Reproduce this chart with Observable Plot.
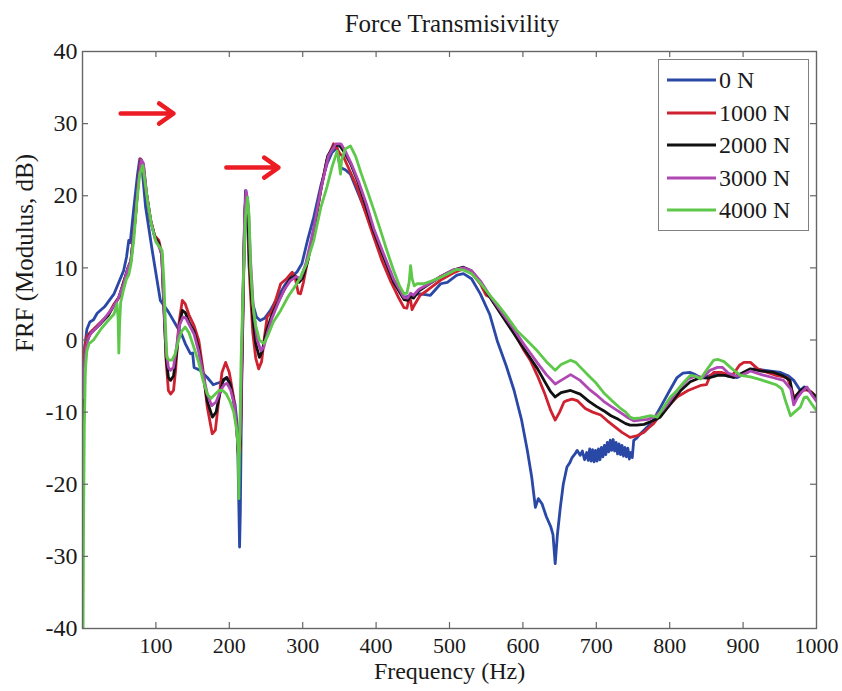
<!DOCTYPE html>
<html>
<head>
<meta charset="utf-8">
<script src="https://cdn.jsdelivr.net/npm/d3@7"></script>
<script src="https://cdn.jsdelivr.net/npm/@observablehq/plot@0.6"></script>
<style>
  html, body { margin: 0; padding: 0; background: #fff; }
  #wrap { position: relative; width: 842px; height: 691px; font-family: "Liberation Serif", "Times New Roman", serif; color: #1a1a1a; overflow: hidden; }
  #titlebar { position: relative; height: 36px; }
  #title { position: absolute; top: 11px; left: 62px; width: 780px; text-align: center; font-size: 25px; line-height: 1; }
  #legend { position: absolute; left: 658px; top: 59px; width: 151px; height: 172px; box-sizing: border-box; border: 1px solid #808080; background: #fff; padding-top: 4px; }
  .row { display: flex; align-items: center; height: 32.5px; }
  .row svg { margin-left: 8px; }
  .row span { margin-left: 3px; font-size: 24px; line-height: 1; }
  svg.plot { display: block; }
</style>
</head>
<body>
<div id="wrap">
  <div id="titlebar"><div id="title"></div></div>
  <div id="chart"></div>
  <div id="legend"></div>
</div>
<script>
const titleText = "Force Transmisivility";
const xLabel = "Frequency (Hz)";
const yLabel = "FRF (Modulus, dB)";
const seriesNames = ["0 N", "1000 N", "2000 N", "3000 N", "4000 N"];
const seriesColors = ["#2a48a6", "#cf2231", "#111111", "#b048b4", "#5ec84a"];
const xTicks = [100, 200, 300, 400, 500, 600, 700, 800, 900, 1000];
const yTicks = [-40, -30, -20, -10, 0, 10, 20, 30, 40];
const xTickMarks = [100, 200, 300, 400, 500, 600, 700, 800, 900];
const yTickMarks = [-30, -20, -10, 0, 10, 20, 30];

// [frequency Hz, FRF dB]
const s0N = [[1,-8],[3,-1],[6,1.5],[10,2.5],[15,2.8],[20,3.7],[30,4.6],[43,6.4],[56,9.6],[60,11.5],[63,13.8],[65,13.5],[70,18.4],[75,23],[78,25.1],[81,24],[86,18.4],[95,12.4],[106,5.5],[117,3.9],[129,1.8],[135,0.8],[140,-0.5],[147,-1.9],[150,-1.8],[152,-3.8],[160,-4.2],[170,-5.2],[178,-6.2],[183.5,-6],[190,-5.8],[197,-5.2],[203,-7],[208,-9],[211,-12],[213,-23],[214,-28.7],[215,-24],[217,-5],[220,12],[222,20.7],[224,19],[227,10],[232,5],[237,3.2],[242,2.7],[248,3],[256,4.1],[265,5.8],[275,7.5],[283,8.7],[292,9.4],[299,10.6],[307,14],[315,17],[325,21.5],[333,24.4],[340,26],[347,26.7],[349,25],[351.5,23.9],[358,23.6],[365,23],[375,20.5],[385,18],[397,15.2],[410,11.5],[424,8.2],[438,5.9],[445,6.1],[452,6.3],[460,6.4],[474,6.2],[488,7.8],[497,8],[510,9],[519,9.2],[530,8.5],[542,6.4],[555,3.5],[565,-0.1],[577,-3.5],[588,-7],[598,-11],[606,-15.3],[612,-19],[617,-23.2],[621,-22],[626,-22.7],[632,-24.5],[638,-25.9],[641,-27],[644,-31],[647,-27],[651,-23.2],[655,-20],[660,-17.6],[664,-17],[667,-16.3],[671,-15.8],[674,-15.3],[678,-16],[681,-15.4],[684,-16.6],[687,-15.6],[689,-16.7],[691,-15.1],[693,-16.8],[695,-15.2],[697,-16.9],[699,-15.3],[701,-16.8],[703,-15.1],[705,-16.6],[707,-14.9],[709,-16.2],[711,-14.6],[713,-15.9],[715,-14.2],[717,-15.5],[719,-13.9],[721,-15.3],[723,-13.8],[725,-15.4],[727,-14.2],[729,-15.8],[731,-14.4],[733,-15.9],[735,-14.6],[737,-16.1],[739,-14.9],[741,-16.2],[743,-15],[745,-16.5],[747,-15.6],[749,-16.3],[751,-13.9],[755,-13.6],[760,-13],[769,-12.1],[778,-11],[787.5,-9.3],[800,-7],[810,-5.2],[818,-4.6],[828,-4.5],[835,-4.8],[842,-5.2],[853,-5],[865,-4.5],[880,-5],[892,-5.2],[905,-4.5],[915,-4],[930,-4.2],[951,-4.5],[962,-5],[969,-5.6],[978,-7],[983,-6.5],[987,-6.7],[994,-7.5],[1000,-8.4]];

const s1000N = [[1,-5],[3,-1],[6,0.5],[10,1],[15,1.5],[25,2.5],[35,3.5],[43,5],[50,6],[56,8],[62,10],[66,11],[72,17],[76,22],[79,25.1],[82,24.5],[86,21],[92,17],[98,14.5],[104,13.8],[108,12],[111,5],[114,-3],[117,-7],[120,-7.5],[124,-7],[127,-4],[131,2],[136,5.5],[140,5],[145,3.5],[152,2],[158.5,-0.1],[164,-4],[170,-9.3],[176.7,-13],[181,-12.5],[186,-8],[190,-4.5],[195,-3.1],[200,-4.5],[206,-8],[210,-12],[213,-17],[215,-15],[218,0],[221,17],[223,20.3],[225,18],[228,8],[232,1],[236,-2.5],[240,-4],[244,-3],[248,0.5],[251.6,3.2],[258,4],[263,5.5],[270,7.8],[278,8.5],[285.7,9.4],[290,8.5],[294,6.5],[297,6.4],[301,8],[306,10.6],[315,15],[325,21],[333,25],[342,27.2],[347,26.5],[351,25.8],[356,25.3],[364,23.5],[374,21.2],[385,17.8],[397,14.2],[408,11],[419.6,8.2],[430,6],[438,4.5],[442,4.4],[445,5.8],[447,5.5],[449,4.2],[453,5],[460,6.2],[470,6.9],[488,8.3],[505,9.3],[519,9.9],[530,9.3],[542,7.8],[550,6.2],[556,5.9],[560,5.2],[565,4.8],[575,3],[587,1.2],[600,-1.2],[610,-2.8],[620,-5],[630,-7.5],[638,-9.8],[644,-11.1],[650,-10],[656,-8.6],[660,-8.4],[667,-8.2],[674,-8.4],[685,-9.5],[695,-10],[706,-10.4],[715,-11.2],[725,-12],[735,-12.8],[746,-13.5],[755,-13.3],[765,-12.8],[771,-12.2],[778,-11.6],[790,-10],[800,-9],[810,-7.9],[825,-7],[842,-6.3],[850,-6.2],[855,-5],[860,-4.5],[870,-4.5],[880,-4.8],[887,-4.7],[895,-3.5],[901,-3.1],[910,-3.1],[920,-4],[933,-4.5],[945,-4.9],[960,-5.2],[965,-6.5],[969,-7.9],[975,-7.5],[980,-7],[987,-6.9],[993,-7.2],[1000,-7.9]];

const s2000N = [[1,-13],[2,-7],[4,-2],[7,0],[10,0.8],[15,1.3],[25,2.3],[35,3.4],[43,4.8],[50,6],[56,8],[62,10],[66,11],[72,17],[76,22],[80,25],[83,24.2],[87,20.5],[93,16.5],[99,14.2],[104,13.4],[108,11.8],[111,4],[114,-2.5],[117,-5.2],[120,-5.6],[124,-5],[128,-2],[132,2],[136,4.1],[140,3.8],[145,2.5],[152,1.2],[158,-1],[164,-4.5],[170,-8.5],[177,-10.7],[182,-10],[187,-7.5],[192,-5.5],[196,-5.2],[201,-6],[206,-8.5],[210,-12],[213,-17],[215,-14],[218,2],[221,17.5],[223,20.4],[225,18],[228,10],[232,3],[236,-0.5],[241,-2.4],[245,-1.5],[250,1],[257,3.2],[265,5],[275,7],[283,8.5],[290,8.9],[295,8],[300,8.6],[307,11],[315,15.2],[325,21],[334,25.5],[343,27],[350,27],[357,26],[365,24.5],[375,22],[386,18.6],[397,15],[410,11.6],[424,8],[438,5.6],[443,5.5],[447,6],[451,5.8],[458,6.8],[470,7.6],[488,8.8],[505,9.7],[519,10.1],[530,9.6],[542,8],[556,5.8],[570,3.6],[587,1],[600,-1],[610,-2.5],[620,-4],[630,-5.8],[638,-7.2],[644,-7.9],[652,-7.3],[665,-7],[678,-7.5],[690,-8.5],[700,-9.2],[710,-9.8],[720,-10.5],[730,-11],[740,-11.6],[746,-11.8],[755,-11.8],[765,-11.7],[777,-11.2],[787,-10.7],[800,-9],[815,-7],[828,-5.8],[842,-5.2],[852,-5.3],[865,-4.9],[875,-4.9],[887,-5.2],[898,-4.6],[910,-4],[925,-4.3],[942,-4.5],[955,-5],[964,-5.6],[969,-8.4],[973,-7.6],[978,-7],[985,-6.6],[992,-7.2],[1000,-7.9]];

const s3000N = [[1,-8],[3,-3],[5,-1],[8,0.3],[12,1],[20,1.8],[30,3],[40,4.3],[48,5.6],[56,7.8],[62,10],[66,11],[72,17],[76,22],[80,25],[83,24.5],[87,20.5],[93,16.5],[99,14],[104,13],[108,11.8],[111,4.5],[114,-1.5],[117,-3.8],[120,-4.2],[124,-3.8],[128,-1],[132,2],[137,3.2],[141,3],[146,2],[152,0.8],[158,-1.5],[164,-4.5],[170,-7.5],[176,-9.1],[182,-8.6],[188,-7],[193,-6.2],[197,-6],[202,-7],[207,-9],[210,-12],[213,-16],[215,-13],[218,3],[221,18],[223,20.7],[226,18.5],[229,11],[233,4],[238,0],[243,-1.5],[247,-1],[252,1],[258,3],[266,5],[275,7],[283,8.2],[291,8.8],[297,8.5],[304,10.5],[315,15.5],[325,21],[335,25.5],[345,27.2],[352,27.2],[358,26.2],[366,24.5],[376,22],[387,18.8],[397,15.4],[410,12],[424,8.4],[438,5.9],[443,5.8],[447,6.5],[451,6.2],[458,7],[470,7.7],[488,8.8],[505,9.7],[519,10],[530,9.6],[542,8.2],[556,6],[570,4],[587,1.6],[600,-0.4],[610,-1.8],[620,-3.2],[632,-4.8],[644,-6.1],[652,-5.6],[665,-4.8],[678,-5.6],[690,-6.8],[700,-7.6],[710,-8.5],[720,-9.2],[732,-10],[742,-10.7],[751,-11.2],[760,-11.1],[770,-11],[780,-10.6],[790,-9.8],[800,-8.5],[812,-6.8],[825,-5.4],[835,-5],[845,-5.2],[855,-4.2],[865,-3.8],[872,-3.8],[880,-4.6],[890,-5],[900,-4.8],[910,-4.3],[925,-4.8],[940,-5.2],[955,-5.6],[965,-6.8],[969,-9],[974,-8],[980,-7.2],[987,-6.5],[993,-7.5],[1000,-8.5]];

const s4000N = [[0.8,-40],[1.5,-25],[2.5,-12],[4,-4],[6,-1.5],[9,-0.5],[15,0],[25,1.5],[35,2.7],[43,3.6],[47,5],[48.5,3],[49.5,-1.8],[50.5,2],[52,5.2],[56,7],[60,8.5],[63,9],[66,10.5],[70,14],[74,19],[78,23],[82,24.2],[85,22],[89,19],[94,16],[100,13.6],[108.5,12.4],[111,8],[113,2],[115,-2.4],[118,-2.8],[122,-2.8],[126,-2],[131,0],[135,1.2],[140,1.8],[145,1],[151,-0.8],[158,-3],[164,-5.5],[170,-7.5],[175,-8.1],[180,-7.6],[186,-7],[191,-7],[196,-7.5],[201,-8.5],[206,-10],[210,-12.5],[212,-15],[213,-22],[214,-15],[216,-3],[219,8],[222,17],[225,19.8],[227,17],[229,10],[232,5],[236,2],[241,0],[247,-0.5],[252,0.5],[260,2.5],[270,4.1],[280,6],[290,7.5],[297,8.7],[305,10.5],[315,13.8],[325,18.5],[333,21.2],[340,24],[347,26.2],[349,25],[351.5,23],[353,25],[358,26.5],[365,26.9],[372,25.5],[380,23],[388,20.7],[397,18],[406,15.2],[415,12.3],[424,9.6],[432,7.5],[438,6.4],[442,6.5],[445,8],[447,10.3],[449,8.5],[452,7.5],[456,7.8],[465,7.8],[476,8.2],[488,8.7],[500,9.3],[510,9.8],[519,9.7],[530,9.2],[542,7.9],[555,6.2],[565,5],[578,3.3],[592,1.3],[605,0],[619.5,-1.5],[632,-3],[644,-4.2],[652,-3.4],[665,-2.8],[672,-3.1],[678.5,-3.8],[690,-5],[700,-6],[710,-7.3],[720,-8.3],[732,-9.4],[740,-10],[746,-10.7],[751,-10.9],[760,-10.8],[774,-10.5],[783,-10.7],[792,-9.3],[801,-7.9],[810,-7],[818,-6],[828,-4.9],[835,-5],[842,-5.4],[850,-4.2],[860,-2.8],[866,-2.7],[874,-3],[885,-4],[896.5,-4.9],[910,-5.1],[920,-5.4],[933,-5.8],[945,-6.2],[953,-6.8],[958,-8.5],[964.6,-10.5],[970,-10],[978,-9.3],[983,-8],[987,-7.9],[993,-8.8],[1000,-9.8]];

// annotation arrows: start and end points in data units
const arrowStarts = [[52, 31.4], [196, 23.9]];
const arrowEnds = [[124, 31.4], [267, 23.9]];

const seriesData = [s0N, s1000N, s2000N, s3000N, s4000N];
const rows = [];
seriesData.forEach((arr, i) => arr.forEach(([f, v]) => rows.push({series: seriesNames[i], f, v})));
const arrows = arrowStarts.map((s, i) => ({x1: s[0], y1: s[1], x2: arrowEnds[i][0], y2: arrowEnds[i][1]}));

const W = 842, H = 655, mL = 82, mR = 26, mT = 15, mB = 63;
const innerW = W - mL - mR, innerH = H - mT - mB, tickLen = 6;
const frameColor = "#666";

const chart = Plot.plot({
  width: W, height: H,
  marginLeft: mL, marginRight: mR, marginTop: mT, marginBottom: mB,
  style: {fontFamily: "'Liberation Serif', 'Times New Roman', serif", fontSize: "22px", color: "#1a1a1a", background: "transparent"},
  x: {domain: [0, 1000]},
  y: {domain: [-40, 40]},
  color: {domain: seriesNames, range: seriesColors},
  marks: [
    Plot.line(rows, {x: "f", y: "v", z: "series", stroke: "series", strokeWidth: 2.8, clip: true, strokeLinejoin: "round"}),
    Plot.arrow(arrows, {x1: "x1", y1: "y1", x2: "x2", y2: "y2", stroke: "#ec1c24", strokeWidth: 4.5, headLength: 16, headAngle: 70}),
    Plot.tickX(xTickMarks, {x: d => d, insetTop: innerH - tickLen, stroke: frameColor, strokeWidth: 1.2}),
    Plot.tickX(xTickMarks, {x: d => d, insetBottom: innerH - tickLen, stroke: frameColor, strokeWidth: 1.2}),
    Plot.tickY(yTickMarks, {y: d => d, insetRight: innerW - tickLen, stroke: frameColor, strokeWidth: 1.2}),
    Plot.tickY(yTickMarks, {y: d => d, insetLeft: innerW - tickLen, stroke: frameColor, strokeWidth: 1.2}),
    Plot.frame({stroke: frameColor, strokeWidth: 1.4}),
    Plot.axisX({ticks: xTicks, tickSize: 0, tickPadding: 9, tickFormat: d => String(d), label: null, fontSize: 22}),
    Plot.axisY({ticks: yTicks, tickSize: 0, tickPadding: 5, tickFormat: d => String(d), label: null, fontSize: 24}),
    Plot.text([xLabel], {text: d => d, frameAnchor: "bottom", lineAnchor: "middle", dy: 43, fontSize: 24}),
    Plot.text([yLabel], {text: d => d, frameAnchor: "left", lineAnchor: "middle", rotate: -90, dx: -58, dy: 12, fontSize: 25})
  ]
});
document.getElementById("chart").appendChild(chart);
document.getElementById("title").textContent = titleText;

const legend = document.getElementById("legend");
seriesNames.forEach((name, i) => {
  const row = document.createElement("div");
  row.className = "row";
  row.innerHTML = `<svg width="49" height="6"><line x1="0" y1="3" x2="49" y2="3" stroke="${seriesColors[i]}" stroke-width="3"/></svg><span>${name}</span>`;
  legend.appendChild(row);
});
</script>
</body>
</html>
